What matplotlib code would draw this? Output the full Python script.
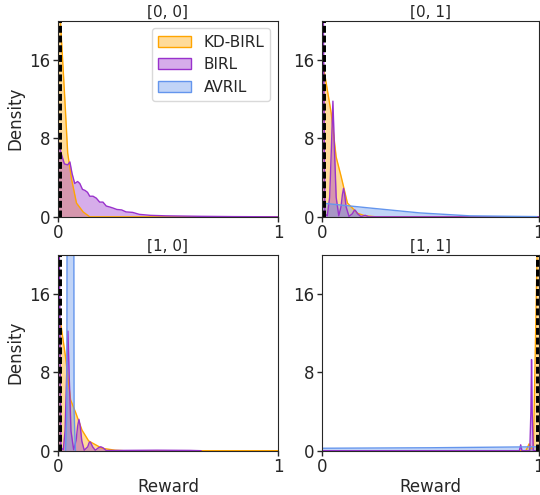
import numpy as np
import matplotlib
matplotlib.use("Agg")
import matplotlib.pyplot as plt
from matplotlib.patches import Patch

# panel titles and true reward values
titles = ["[0, 0]", "[0, 1]", "[1, 0]", "[1, 1]"]
true_vals = [0, 0, 0, 1]

# ---- [0, 0] ----
kd_x_00 = [0.0, 0.012, 0.032, 0.045, 0.063, 0.085, 0.115, 0.145, 0.2, 1.0]
kd_y_00 = [26.0, 20.0, 12.0, 6.5, 3.8, 1.4, 0.5, 0.0, 0.0, 0.0]
birl_x_00 = [0.0, 0.015, 0.03, 0.045, 0.055, 0.065, 0.077, 0.09, 0.1, 0.112,
             0.123, 0.135, 0.145, 0.16, 0.175, 0.19, 0.205, 0.22, 0.236, 0.25,
             0.268, 0.29, 0.31, 0.34, 0.37, 0.42, 0.49, 0.65, 0.8, 1.0]
birl_y_00 = [7.9, 6.5, 5.4, 5.3, 5.6, 4.4, 3.4, 3.6, 3.4, 2.8,
             2.7, 2.5, 2.1, 2.1, 1.9, 1.5, 1.5, 1.1, 1.0, 0.9,
             0.75, 0.7, 0.5, 0.45, 0.25, 0.15, 0.1, 0.05, 0.02, 0.0]
avril_x_00 = [-0.2, -0.1, -0.02]
avril_y_00 = [0.0, 5.0, 0.0]

# ---- [0, 1] ----
kd_x_01 = [0.0, 0.043, 0.066, 0.089, 0.118, 0.165, 0.2, 0.25, 1.0]
kd_y_01 = [16.3, 10.6, 6.1, 4.1, 1.4, 0.35, 0.1, 0.0, 0.0]
birl_x_01 = [0.0, 0.014, 0.025, 0.036, 0.044, 0.051, 0.058, 0.066, 0.078, 0.088,
             0.095, 0.1, 0.105, 0.112, 0.125, 0.14, 0.148, 0.152, 0.156, 0.165,
             0.18, 0.2, 0.215, 1.0]
birl_y_01 = [40.0, 0.3, 0.1, 2.0, 7.0, 11.8, 7.0, 2.0, 0.1, 1.0,
             2.3, 2.9, 2.3, 1.0, 0.05, 0.3, 0.6, 0.7, 0.6, 0.3,
             0.02, 0.15, 0.0, 0.0]
avril_x_01 = [0.0, 0.22, 0.45, 0.68, 0.99]
avril_y_01 = [1.4, 0.9, 0.4, 0.1, 0.02]

# ---- [1, 0] ----
kd_x_10 = [0.0, 0.012, 0.035, 0.058, 0.081, 0.11, 0.14, 0.172, 0.2, 0.26, 0.3, 1.0]
kd_y_10 = [13.5, 13.2, 9.6, 5.2, 3.9, 2.1, 1.0, 0.6, 0.25, 0.05, 0.0, 0.0]
birl_x_10 = [0.0, 0.014, 0.025, 0.033, 0.04, 0.046, 0.052, 0.06, 0.072, 0.083,
             0.09, 0.096, 0.102, 0.109, 0.12, 0.136, 0.142, 0.146, 0.15, 0.158,
             0.17, 0.185, 0.195, 0.205, 0.22, 0.45, 0.6, 0.65]
birl_y_10 = [40.0, 0.3, 0.1, 2.0, 7.5, 12.2, 7.5, 2.0, 0.1, 1.0,
             2.5, 3.2, 2.5, 1.0, 0.05, 0.4, 0.8, 0.9, 0.8, 0.4,
             0.05, 0.3, 0.4, 0.3, 0.02, 0.05, 0.03, 0.0]
avril_x_10 = [0.035, 0.041, 0.044, 0.057, 0.071, 0.074, 0.08]
avril_y_10 = [0.0, 4.0, 60.0, 100.0, 60.0, 4.0, 0.0]

# ---- [1, 1] ----
kd_x_11 = [0.0, 0.94, 0.955, 0.965, 0.975, 1.0]
kd_y_11 = [0.0, 0.0, 0.7, 0.2, 0.5, 30.0]
birl_x_11 = [0.0, 0.91, 0.916, 0.922, 0.958, 0.963, 0.966, 0.969, 0.974, 1.0]
birl_y_11 = [0.0, 0.0, 0.6, 0.0, 0.0, 4.0, 9.3, 4.0, 0.0, 0.0]
avril_x_11 = [0.0, 0.5, 1.0]
avril_y_11 = [0.25, 0.3, 0.4]

kd = [(kd_x_00, kd_y_00), (kd_x_01, kd_y_01), (kd_x_10, kd_y_10), (kd_x_11, kd_y_11)]
birl = [(birl_x_00, birl_y_00), (birl_x_01, birl_y_01), (birl_x_10, birl_y_10), (birl_x_11, birl_y_11)]
avril = [(avril_x_00, avril_y_00), (avril_x_01, avril_y_01), (avril_x_10, avril_y_10), (avril_x_11, avril_y_11)]

names = ["KD-BIRL", "BIRL", "AVRIL"]
colors = ["orange", "darkorchid", "cornflowerblue"]

plt.rcParams['font.family'] = ['DejaVu Sans']
plt.rcParams['text.color'] = '0.15'
plt.rcParams['axes.labelcolor'] = '0.15'
plt.rcParams['xtick.color'] = '0.15'
plt.rcParams['ytick.color'] = '0.15'
plt.rcParams['axes.edgecolor'] = '0.15'

fig = plt.figure(figsize=(5.4, 4.95), dpi=100)
rects = [[0.107, 0.562, 0.408, 0.396], [0.596, 0.562, 0.402, 0.396],
         [0.107, 0.0895, 0.408, 0.396], [0.596, 0.0895, 0.402, 0.396]]

for i in range(4):
    ax = fig.add_axes(rects[i])
    for (x, y), c in zip([kd[i], birl[i], avril[i]], colors):
        x = np.array(x)
        y = np.array(y)
        ax.fill_between(x, y, color=c, alpha=0.4, linewidth=0)
        ax.plot(x, y, color=c, linewidth=1)
    # true value, half of the thick line is clipped by the axes
    ax.axvline(true_vals[i], color='black', linestyle='--', linewidth=5,
               dashes=(1.0, 0.4))
    ax.set_xlim(0, 1)
    ax.set_ylim(0, 20)
    ax.set_xticks([0, 1])
    ax.set_yticks([0, 8, 16])
    ax.tick_params(labelsize=12, length=3.5, width=1, pad=2)
    ax.set_title(titles[i], fontsize=11, pad=3)
    if i % 2 == 0:
        ax.set_ylabel("Density", fontsize=12, labelpad=3)
    if i >= 2:
        ax.set_xlabel("Reward", fontsize=12, labelpad=1)
    if i == 0:
        handles = [Patch(facecolor=matplotlib.colors.to_rgba(c, 0.4),
                         edgecolor=c) for c in colors]
        ax.legend(handles, names, loc='upper right', fontsize=11,
                  handlelength=2.2, framealpha=1, edgecolor='0.85')

fig.savefig("out.png", dpi=100)
